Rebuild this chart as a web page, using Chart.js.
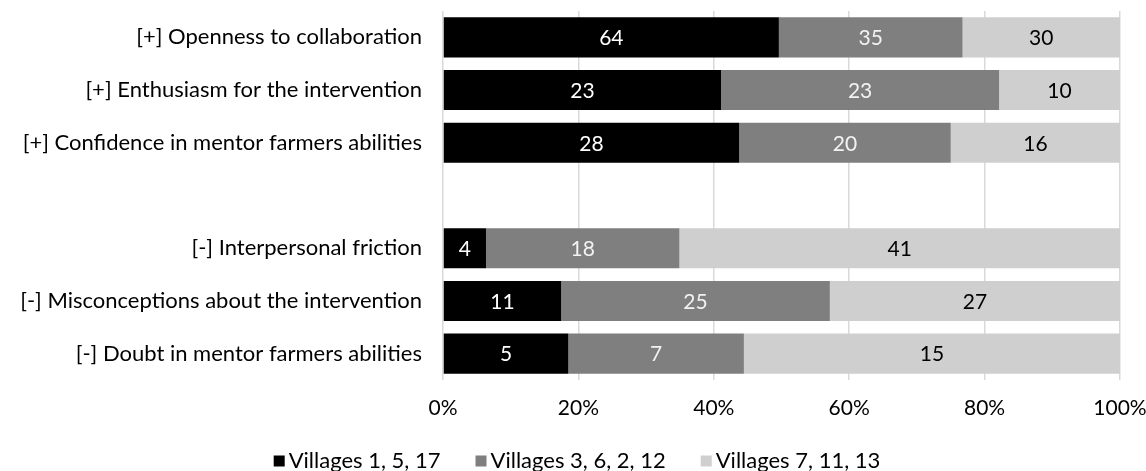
<!DOCTYPE html>
<html>
<head>
<meta charset="utf-8">
<script src="https://cdn.jsdelivr.net/npm/chart.js@4.4.1/dist/chart.umd.min.js"></script>
<style>
  html, body { margin: 0; padding: 0; background: #fff; }
  .wrap { width: 1146px; height: 471px; position: relative; }
</style>
</head>
<body>
<div class="wrap"><canvas class="myChart"></canvas></div>
<script>
const categories = [
  "[+] Openness to collaboration",
  "[+] Enthusiasm for the intervention",
  "[+] Confidence in mentor farmers abilities",
  "",
  "[-] Interpersonal friction",
  "[-] Misconceptions about the intervention",
  "[-] Doubt in mentor farmers abilities"
];
const seriesNames = ["Villages 1, 5, 17", "Villages 3, 6, 2, 12", "Villages 7, 11, 13"];
const villagesA = [64, 23, 28, null, 4, 11, 5];
const villagesB = [35, 23, 20, null, 18, 25, 7];
const villagesC = [30, 10, 16, null, 41, 27, 15];
const xTicks = [0, 20, 40, 60, 80, 100];

const colors = ["#000000", "#7f7f7f", "#cfcfcf"];
const labelColors = ["#ffffff", "#f2f2f2", "#000000"];
const counts = [villagesA, villagesB, villagesC];

// share of each row total, so every bar reaches 100%
const totals = categories.map((c, i) => counts.reduce((s, arr) => s + (arr[i] || 0), 0));
const toPercent = arr => arr.map((v, i) => v == null ? null : v / totals[i] * 100);

const barLabels = {
  id: "barLabels",
  afterDatasetsDraw(chart) {
    const ctx = chart.ctx;
    ctx.save();
    ctx.font = "21px Lato";
    ctx.textAlign = "center";
    ctx.textBaseline = "middle";
    chart.data.datasets.forEach((ds, i) => {
      chart.getDatasetMeta(i).data.forEach((bar, j) => {
        const v = counts[i][j];
        if (v == null) return;
        const p = bar.getProps(["x", "y", "base"], true);
        ctx.fillStyle = labelColors[i];
        ctx.fillText(String(v), (p.x + p.base) / 2, p.y + 1);
      });
    });
    ctx.restore();
  }
};

const bottomLegend = {
  id: "bottomLegend",
  afterDraw(chart) {
    const ctx = chart.ctx;
    const box = 11, gapText = 4, gapItem = 35, y = 460;
    ctx.save();
    ctx.font = "22px Lato";
    ctx.textBaseline = "middle";
    const widths = seriesNames.map(n => box + gapText + ctx.measureText(n).width);
    const total = widths.reduce((a, b) => a + b, 0) + gapItem * (seriesNames.length - 1);
    let x = (chart.width - total) / 2 + 4;
    seriesNames.forEach((n, i) => {
      ctx.fillStyle = colors[i];
      ctx.fillRect(x, y - box / 2 + 1, box, box);
      ctx.fillStyle = "#000";
      ctx.fillText(n, x + box + gapText, y + 1);
      x += widths[i] + gapItem;
    });
    ctx.restore();
  }
};

const myChart = document.querySelector(".myChart").getContext("2d");

new Chart(myChart, {
  type: "bar",
  data: {
    labels: categories,
    datasets: seriesNames.map((name, i) => ({
      label: name,
      data: toPercent(counts[i]),
      backgroundColor: colors[i],
      borderWidth: 0,
      categoryPercentage: 1,
      barPercentage: 0.76
    }))
  },
  options: {
    indexAxis: "y",
    responsive: true,
    maintainAspectRatio: false,
    animation: false,
    layout: { padding: { top: 11, right: 26, bottom: 35, left: 0 } },
    scales: {
      x: {
        stacked: true,
        min: 0,
        max: 100,
        afterBuildTicks(scale) { scale.ticks = xTicks.map(v => ({ value: v })); },
        afterFit(scale) {
          scale.height = 56;
          scale.paddingLeft = 0;
          scale.paddingRight = 0;
        },
        ticks: {
          callback: v => v + "%",
          color: "#000",
          padding: 16,
          font: { family: "Lato", size: 21 }
        },
        grid: { color: "#d9d9d9", lineWidth: 1.5, drawTicks: false },
        border: { display: false }
      },
      y: {
        stacked: true,
        afterFit(scale) {
          scale.width = 443;
          scale.paddingTop = 0;
          scale.paddingBottom = 0;
        },
        ticks: {
          color: "#000",
          padding: 21,
          font: { family: "Lato", size: 22 }
        },
        grid: { display: false, drawTicks: false },
        border: { display: false }
      }
    },
    plugins: {
      legend: { display: false },
      tooltip: { enabled: false }
    }
  },
  plugins: [barLabels, bottomLegend]
});
</script>
</body>
</html>
